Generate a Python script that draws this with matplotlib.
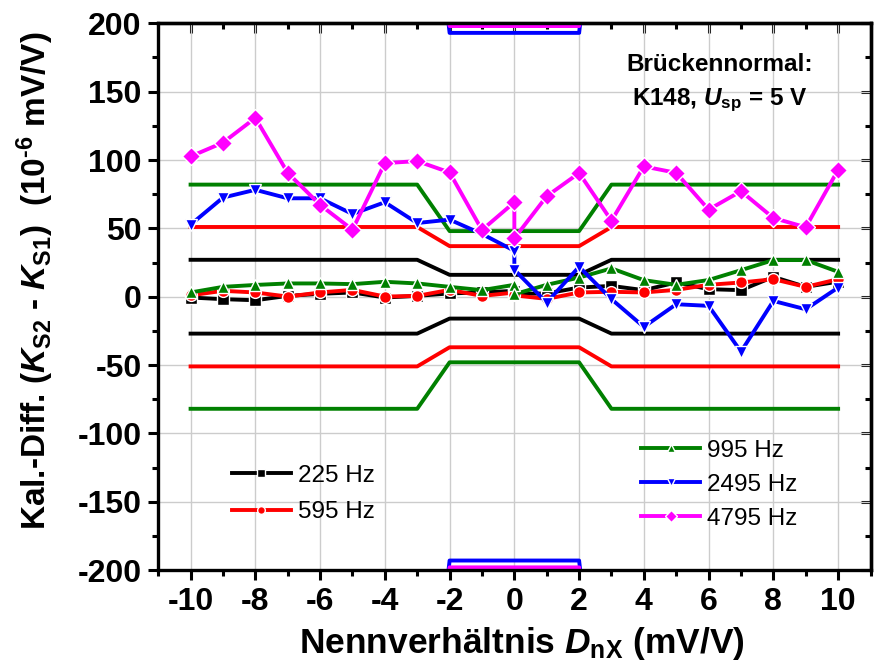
import numpy as np
import matplotlib
matplotlib.use('Agg')
import matplotlib.pyplot as plt
from matplotlib.ticker import MultipleLocator

plt.rcParams['font.family'] = ['Liberation Sans', 'DejaVu Sans']
plt.rcParams['font.weight'] = 'bold'
plt.rcParams['axes.labelweight'] = 'bold'
plt.rcParams['axes.unicode_minus'] = False
plt.rcParams['mathtext.fontset'] = 'custom'
plt.rcParams['mathtext.rm'] = 'Liberation Sans:bold'
plt.rcParams['mathtext.it'] = 'Liberation Sans:italic:bold'
plt.rcParams['mathtext.bf'] = 'Liberation Sans:bold'

# Messpunkte (0 doppelt gemessen)
x = [-10, -9, -8, -7, -6, -5, -4, -3, -2, -1, 0, 0, 1, 2, 3, 4, 5, 6, 7, 8, 9, 10]
y225 = [-0.6, -1.8, -2.6, 0.6, 2.1, 3.1, -0.6, 0.6, 2.4, 3.1, 4.3, 2.0,
        2.4, 6.7, 7.9, 4.8, 10.4, 5.5, 4.8, 14.5, 7.2, 11.0]
y595 = [1.0, 4.3, 3.1, 0.1, 3.1, 5.0, 0.1, 0.6, 5.0, 0.6, 3.0, 1.0,
        -1.6, 3.1, 3.6, 3.1, 5.0, 8.7, 10.4, 12.8, 7.2, 12.8]
y995 = [3.1, 7.2, 8.6, 9.7, 9.7, 9.2, 10.9, 9.7, 7.2, 4.8, 8.7, 1.8,
        8.7, 14.0, 20.7, 12.1, 8.7, 12.2, 19.4, 26.8, 26.8, 18.2]
y2495 = [52.7, 72.5, 78.2, 72.0, 72.0, 60.5, 69.1, 53.9, 56.4, 45.9, 33.6, 19.7,
         -4.3, 21.9, -1.8, -22.1, -5.5, -6.7, -40.2, -3.1, -9.2, 6.7]
y4795 = [102.6, 112.7, 130.8, 90.6, 67.2, 49.0, 97.7, 99.2, 90.9, 48.8, 69.1, 42.7,
         73.5, 90.5, 55.6, 95.3, 90.6, 63.7, 77.2, 57.6, 50.8, 92.8]

# Grenzkurven (aussen / innen)
lim_x = [-10, -3, -2, 2, 3, 10]
lim_outer = [27, 51, 82, 400, 400]
lim_inner = [16, 37, 48, 193, 198]

labels = ['225 Hz', '595 Hz', '995 Hz', '2495 Hz', '4795 Hz']
colors = ['black', '#ff0000', '#008000', '#0000ff', '#ff00ff']
markers = ['s', 'o', '^', 'v', 'D']
series = [y225, y595, y995, y2495, y4795]

fig = plt.figure(figsize=(8.74, 6.66), dpi=100)
ax = fig.add_axes([0.181, 0.144, 0.815, 0.821])

for c, lo, li in zip(colors, lim_outer, lim_inner):
    up = [lo, lo, li, li, lo, lo]
    ax.plot(lim_x, up, color=c, lw=2.8, zorder=2)
    ax.plot(lim_x, [-v for v in up], color=c, lw=2.8, zorder=2)

handles = []
for ys, c, m, lab in zip(series, colors, markers, labels):
    ms = 9.5 if m == 'D' else 8.5
    h, = ax.plot(x, ys, color=c, lw=2.8, marker=m, ms=ms, mec='white', mew=1.0,
                 label=lab, zorder=3)
    handles.append(h)

ax.set_xlim(-11, 11)
ax.set_ylim(-200, 200)
ax.xaxis.set_major_locator(MultipleLocator(2))
ax.xaxis.set_minor_locator(MultipleLocator(1))
ax.yaxis.set_major_locator(MultipleLocator(50))
ax.yaxis.set_minor_locator(MultipleLocator(25))
ax.grid(True, which='major', color='#cccccc', lw=1.0, zorder=0)
ax.set_axisbelow(True)
ax.tick_params(which='major', direction='out', length=7, width=2.2, labelsize=23, pad=5)
ax.tick_params(which='minor', direction='out', length=4, width=2.2)
for s in ax.spines.values():
    s.set_linewidth(2.4)

# obere / rechte Achse mit Ticks nach innen
top = ax.secondary_xaxis('top')
top.xaxis.set_major_locator(MultipleLocator(2))
top.xaxis.set_minor_locator(MultipleLocator(1))
top.tick_params(which='major', direction='in', length=7, width=2.2, labeltop=False)
top.tick_params(which='minor', direction='in', length=4, width=2.2)
top.spines['top'].set_linewidth(2.4)
right = ax.secondary_yaxis('right')
right.yaxis.set_major_locator(MultipleLocator(50))
right.yaxis.set_minor_locator(MultipleLocator(25))
right.tick_params(which='major', direction='in', length=7, width=2.2, labelright=False)
right.tick_params(which='minor', direction='in', length=4, width=2.2)
right.spines['right'].set_linewidth(2.4)

ax.set_xlabel(r'Nennverhältnis $D_{\mathrm{nX}}$ (mV/V)', fontsize=25.5)
ax.set_ylabel(r'Kal.-Diff. ($K_{\mathrm{S2}}$ - $K_{\mathrm{S1}}$)  (10$^{\text{-6}}$ mV/V)', fontsize=24)
ax.xaxis.set_label_coords(0.51, -0.1)
ax.yaxis.set_label_coords(-0.143, 0.53)

ax.text(0.788, 0.89, 'Brückennormal:\nK148, $U_{\mathrm{sp}}$ = 5 V', transform=ax.transAxes,
        ha='center', va='center', fontsize=17.5, linespacing=1.55)

leg1 = ax.legend(handles=handles[:2], loc='center', bbox_to_anchor=(0.204, 0.139),
                 frameon=False, handlelength=2.4, markerscale=0.65, handletextpad=0.3,
                 prop={'weight': 'normal', 'size': 17.5}, labelspacing=0.6)
ax.add_artist(leg1)
ax.legend(handles=handles[2:], loc='center', bbox_to_anchor=(0.788, 0.156),
          frameon=False, handlelength=2.4, markerscale=0.65, handletextpad=0.3,
          prop={'weight': 'normal', 'size': 17.5}, labelspacing=0.5)

plt.savefig('out.png', dpi=100)
